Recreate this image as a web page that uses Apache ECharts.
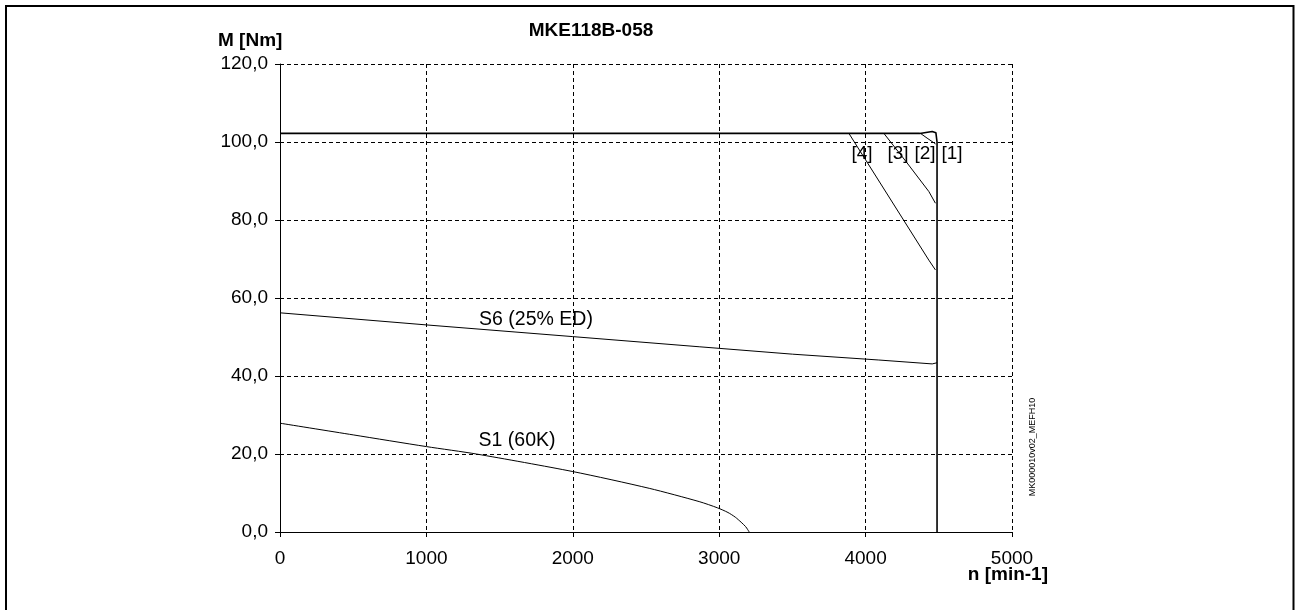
<!DOCTYPE html>
<html>
<head>
<meta charset="utf-8">
<script src="https://cdn.jsdelivr.net/npm/echarts@6/dist/echarts.min.js"></script>
<style>
html,body{margin:0;padding:0;background:#fff;}
#c{width:1295px;height:610px;}
</style>
</head>
<body>
<div id="c"></div>
<script>
// ---- data (n [min-1], M [Nm]) ----
var xTicks = [0, 1000, 2000, 3000, 4000, 5000];
var yTicks = [0, 20, 40, 60, 80, 100, 120];

var curve1 = [[0, 102.2], [4370, 102.2], [4455, 102.7], [4480, 102.4], [4488, 100], [4488, 0]];
var curve2 = [[4375, 102.2], [4420, 101.0], [4478, 99.5]];
var curve3 = [[4125, 102.2], [4280, 94.8], [4432, 87.3], [4477, 84.3]];
var curve4 = [[3886, 102.2], [4160, 85.9], [4432, 69.7], [4477, 67.2]];
var curveS6 = [[0, 56.2], [1000, 53.1], [2000, 50.1], [2863, 47.5], [3500, 45.6], [4090, 44.1], [4455, 43.1], [4488, 43.4]];
var curveS1 = [[0, 27.9], [500, 24.9], [1000, 21.9], [1341, 20.0], [2000, 15.5], [2522, 11.2], [2863, 7.8], [2988, 6.2], [3060, 5.0], [3110, 3.8], [3150, 2.5], [3180, 1.4], [3195, 0.6], [3205, 0]];

var FONT = '"Liberation Sans", Arial, Helvetica, sans-serif';

function line(data, w, smooth) {
  return {
    type: 'line', data: data, showSymbol: false, symbol: 'none', smooth: smooth || false,
    lineStyle: { color: '#000', width: w }, animation: false, silent: true
  };
}

var chart = echarts.init(document.getElementById('c'), null, { renderer: 'canvas' });
var option = {
  backgroundColor: '#fff',
  animation: false,
  grid: { left: 280, right: 283, top: 64, bottom: 78 },
  xAxis: {
    type: 'value', min: xTicks[0], max: xTicks[xTicks.length - 1], interval: 1000,
    axisLine: { show: true, lineStyle: { color: '#000', width: 1.2 } },
    axisTick: { show: true, length: 5, lineStyle: { color: '#000' } },
    axisLabel: { color: '#000', fontSize: 19, fontFamily: FONT, margin: 17,
      formatter: function (v) { return String(v); } },
    splitLine: { show: true, lineStyle: { color: '#000', type: [4, 3], width: 1 } }
  },
  yAxis: {
    type: 'value', min: yTicks[0], max: yTicks[yTicks.length - 1], interval: 20,
    axisLine: { show: true, lineStyle: { color: '#000', width: 1 } },
    axisTick: { show: true, length: 5, lineStyle: { color: '#000' } },
    axisLabel: {
      color: '#000', fontSize: 19, fontFamily: FONT, margin: 12,
      formatter: function (v) { return v.toFixed(1).replace('.', ','); }
    },
    splitLine: { show: true, lineStyle: { color: '#000', type: [4, 3], width: 1 } }
  },
  series: [
    line(curve1, 1.6),
    line(curve2, 1),
    line(curve3, 1),
    line(curve4, 1),
    line(curveS6, 1),
    line(curveS1, 1, 0.25)
  ],
  graphic: [
    { type: 'rect', shape: { x: 6, y: 6, width: 1287.5, height: 640 }, style: { fill: 'none', stroke: '#000', lineWidth: 2 }, z: 100 },
    { type: 'text', x: 591, y: 31, style: { text: 'MKE118B-058', font: 'bold 19px ' + FONT, fill: '#000', textAlign: 'center', textVerticalAlign: 'middle' } },
    { type: 'text', x: 218, y: 41, style: { text: 'M [Nm]', font: 'bold 19px ' + FONT, fill: '#000', textAlign: 'left', textVerticalAlign: 'middle' } },
    { type: 'text', x: 1048, y: 575, style: { text: 'n [min-1]', font: 'bold 19px ' + FONT, fill: '#000', textAlign: 'right', textVerticalAlign: 'middle' } },
    { type: 'text', x: 862, y: 154, style: { text: '[4]', font: '19px ' + FONT, fill: '#000', textAlign: 'center', textVerticalAlign: 'middle' } },
    { type: 'text', x: 898, y: 154, style: { text: '[3]', font: '19px ' + FONT, fill: '#000', textAlign: 'center', textVerticalAlign: 'middle' } },
    { type: 'text', x: 925, y: 154, style: { text: '[2]', font: '19px ' + FONT, fill: '#000', textAlign: 'center', textVerticalAlign: 'middle' } },
    { type: 'text', x: 952, y: 154, style: { text: '[1]', font: '19px ' + FONT, fill: '#000', textAlign: 'center', textVerticalAlign: 'middle' } },
    { type: 'text', x: 536, y: 320, style: { text: 'S6 (25% ED)', font: '19.5px ' + FONT, fill: '#000', textAlign: 'center', textVerticalAlign: 'middle' } },
    { type: 'text', x: 517, y: 441, style: { text: 'S1 (60K)', font: '19.5px ' + FONT, fill: '#000', textAlign: 'center', textVerticalAlign: 'middle' } },
    { type: 'text', x: 1033, y: 447, rotation: Math.PI / 2, style: { text: 'MK000010v02_MEFH10', font: '9px ' + FONT, fill: '#000', textAlign: 'center', textVerticalAlign: 'middle' } }
  ]
};
chart.setOption(option);
</script>
</body>
</html>
